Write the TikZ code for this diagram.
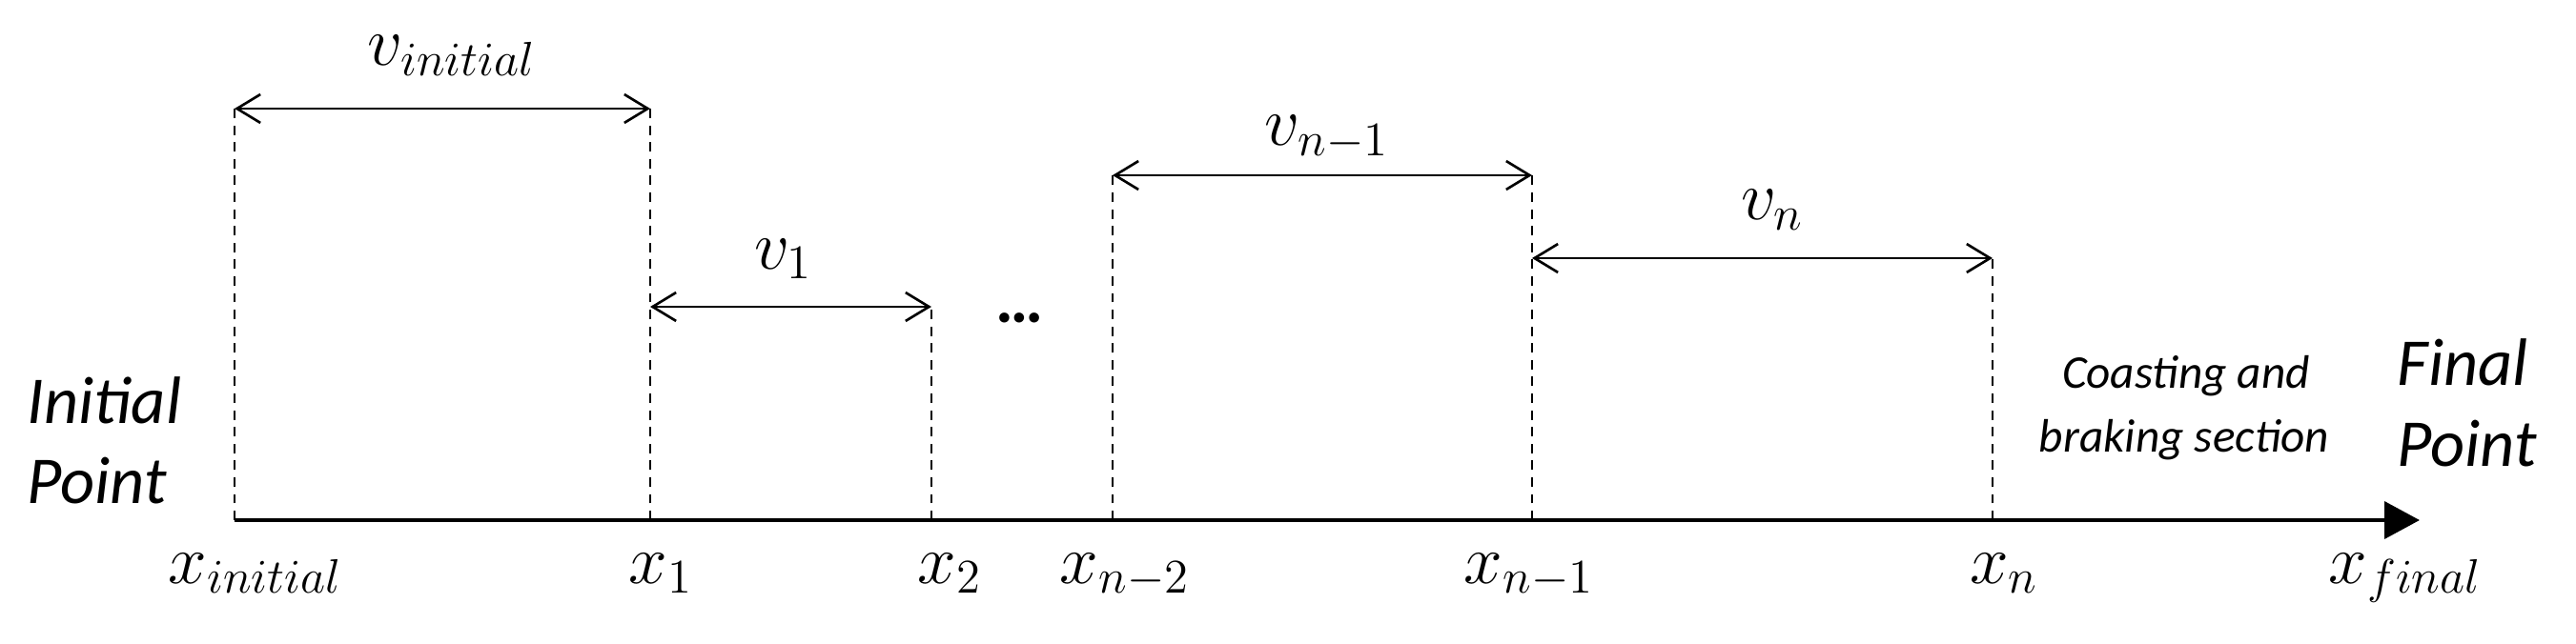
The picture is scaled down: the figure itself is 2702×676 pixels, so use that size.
\documentclass[tikz,border=0pt]{standalone}
\usepackage[no-math]{fontspec}
\setmainfont{Carlito}
\usepackage{amsmath}
\usetikzlibrary{arrows.meta}

\begin{document}
\begin{tikzpicture}[x=0.01cm,y=-0.01cm,black,
	dim/.style={line width=0.75pt,{Straight Barb[length=7pt,width=8.5pt]}-{Straight Barb[length=7pt,width=8.5pt]}},
	guide/.style={line width=0.6pt,dash pattern=on 2.8pt off 2.2pt},
	axis/.style={line width=1.3pt,-{Triangle[length=10.5pt,width=11pt]}},
	lab/.style={inner sep=0pt,anchor=base,font=\fontsize{21}{25}\selectfont},
	txt/.style={inner sep=0pt,anchor=base west,font=\fontsize{20}{24}\selectfont\itshape},
	note/.style={inner sep=0pt,anchor=base,font=\fontsize{14}{18}\selectfont\itshape}]
			\useasboundingbox (0,0) rectangle (2702,676);
			\coordinate (x0) at (246,546);
			\coordinate (x1) at (682,546);
			\coordinate (x2) at (977,546);
			\coordinate (xa) at (1167,546);
			\coordinate (xb) at (1607,546);
			\coordinate (xn) at (2090,546);
			\coordinate (xe) at (2538,546);
			\coordinate (t0) at (246,114);
			\coordinate (t1) at (682,114);
			\coordinate (u1) at (682,322);
			\coordinate (u2) at (977,322);
			\coordinate (ta) at (1167,184);
			\coordinate (tb) at (1607,184);
			\coordinate (ub) at (1607,271);
			\coordinate (un) at (2090,271);
			\draw [guide] (x0)-- (t0);
			\draw [guide] (x1)-- (t1);
			\draw [guide] (x2)-- (u2);
			\draw [guide] (xa)-- (ta);
			\draw [guide] (xb)-- (tb);
			\draw [guide] (xn)-- (un);
			\draw [dim] (t0)-- (t1);
			\draw [dim] (u1)-- (u2);
			\draw [dim] (ta)-- (tb);
			\draw [dim] (ub)-- (un);
			\draw [axis] (x0)-- (xe);
			\node [lab] (vini) at (474,69) {$v_{initial}$};
			\node [lab] (v1) at (822,282) {$v_1$};
			\node [lab] (vnm) at (1392,153) {$v_{n-1}$};
			\node [lab] (vn) at (1859,231) {$v_n$};
			\node [lab] (lx0) at (268,612) {$x_{initial}$};
			\node [lab] (lx1) at (693,612) {$x_1$};
			\node [lab] (lx2) at (996,612) {$x_2$};
			\node [lab] (lxa) at (1180,612) {$x_{n-2}$};
			\node [lab] (lxb) at (1604,612) {$x_{n-1}$};
			\node [lab] (lxn) at (2102,612) {$x_n$};
			\node [lab] (lxe) at (2523,612) {$x_{final}$};
			\node [lab,font=\fontsize{20}{24}\selectfont\bfseries] (dots) at (1070,338) {…};
			\node [txt] (ini1) at (28,444) {Initial};
			\node [txt] (ini2) at (28,528) {Point};
			\node [txt] (fin1) at (2514,405) {Final};
			\node [txt] (fin2) at (2514,489) {Point};
			\node [note] (cb1) at (2293,407) {Coasting and};
			\node [note] (cb2) at (2291,474) {braking section};
		\end{tikzpicture}
\end{document}
